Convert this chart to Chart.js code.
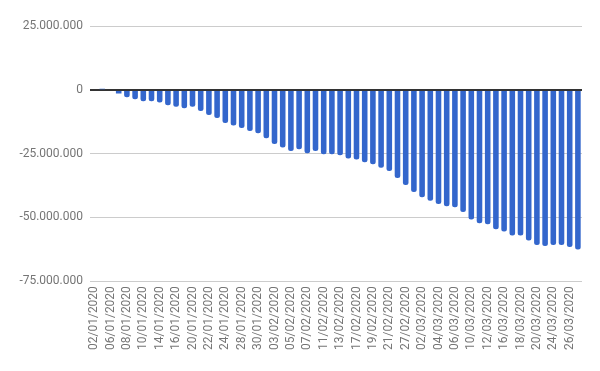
<!DOCTYPE html>
<html>
<head>
<meta charset="utf-8">
<script src="https://cdn.jsdelivr.net/npm/chart.js@4"></script>
<style>
html,body{margin:0;padding:0;background:#fff;}
#wrap{width:600px;height:371px;position:relative;}
</style>
</head>
<body>
<div id="wrap"><canvas id="c" width="600" height="371"></canvas></div>
<script>
const categories = [
  "02/01/2020","03/01/2020","06/01/2020","07/01/2020","08/01/2020","09/01/2020","10/01/2020",
  "13/01/2020","14/01/2020","15/01/2020","16/01/2020","17/01/2020","20/01/2020","21/01/2020",
  "22/01/2020","23/01/2020","24/01/2020","27/01/2020","28/01/2020","29/01/2020","30/01/2020",
  "31/01/2020","03/02/2020","04/02/2020","05/02/2020","06/02/2020","07/02/2020","10/02/2020",
  "11/02/2020","12/02/2020","13/02/2020","14/02/2020","17/02/2020","18/02/2020","19/02/2020",
  "20/02/2020","21/02/2020","26/02/2020","27/02/2020","28/02/2020","02/03/2020","03/03/2020",
  "04/03/2020","05/03/2020","06/03/2020","09/03/2020","10/03/2020","11/03/2020","12/03/2020",
  "13/03/2020","16/03/2020","17/03/2020","18/03/2020","19/03/2020","20/03/2020","23/03/2020",
  "24/03/2020","25/03/2020","26/03/2020","27/03/2020"
];
const values = [
  -500000, 400000, -100000, -1500000, -2900000, -3700000, -4500000,
  -4500000, -5000000, -6100000, -6600000, -7200000, -6600000, -8300000,
  -9900000, -11100000, -13000000, -14000000, -15000000, -16200000, -17000000,
  -19000000, -21200000, -22600000, -24000000, -23300000, -24900000, -24000000,
  -25300000, -25300000, -25700000, -26900000, -27300000, -28400000, -29200000,
  -30600000, -31800000, -34600000, -37300000, -40100000, -42100000, -43500000,
  -44800000, -45600000, -46000000, -47900000, -50800000, -52300000, -52700000,
  -54700000, -55500000, -57100000, -57100000, -59100000, -60800000, -61200000,
  -60800000, -60800000, -61600000, -62600000
];
const yTicks = [25000000, 0, -25000000, -50000000, -75000000];

function fmt(v){
  const s = Math.abs(v).toString().replace(/\B(?=(\d{3})+(?!\d))/g, ".");
  return (v < 0 ? "-" : "") + s;
}

new Chart(document.getElementById('c'), {
  type: 'bar',
  data: {
    labels: categories,
    datasets: [{
      data: values,
      backgroundColor: '#3366cc',
      borderRadius: ctx => Math.abs(ctx.raw) < 2000000 ? 0 : 2.5,
      borderSkipped: 'start',
      barPercentage: 0.68,
      categoryPercentage: 1.0
    }]
  },
  options: {
    responsive: false,
    animation: false,
    devicePixelRatio: 1,
    layout: { padding: { top: 26, right: 18, bottom: 16, left: 0 } },
    plugins: { legend: { display: false }, tooltip: { enabled: false } },
    scales: {
      x: {
        grid: { display: false, drawTicks: false },
        border: { display: false },
        ticks: {
          autoSkip: false,
          maxRotation: 90, minRotation: 90,
          color: '#757575',
          font: { family: 'Roboto', size: 12 },
          padding: 5,
          callback: function(val, idx){ return idx % 2 === 0 ? this.getLabelForValue(val) : null; }
        }
      },
      y: {
        min: -75000000, max: 25000000,
        afterBuildTicks: function(scale){ scale.ticks = yTicks.map(v => ({value: v})); },
        afterFit: function(scale){ scale.width = 90; },
        grid: {
          drawTicks: false,
          color: ctx => (ctx.tick && ctx.tick.value === 0) ? '#333333' : '#cccccc',
          lineWidth: 1
        },
        border: { display: false },
        ticks: {
          color: '#757575',
          font: { family: 'Roboto', size: 12 },
          padding: 7,
          callback: v => fmt(v)
        }
      }
    }
  },
  plugins: [{
    id: 'zeroOnTop',
    afterDatasetsDraw(chart){
      const y = chart.scales.y.getPixelForValue(0);
      const ctx = chart.ctx;
      ctx.save();
      ctx.strokeStyle = '#333333';
      ctx.lineWidth = 1;
      ctx.beginPath();
      ctx.moveTo(chart.chartArea.left, Math.round(y) + 0.5);
      ctx.lineTo(chart.chartArea.right, Math.round(y) + 0.5);
      ctx.stroke();
      ctx.restore();
    }
  }]
});
</script>
</body>
</html>
